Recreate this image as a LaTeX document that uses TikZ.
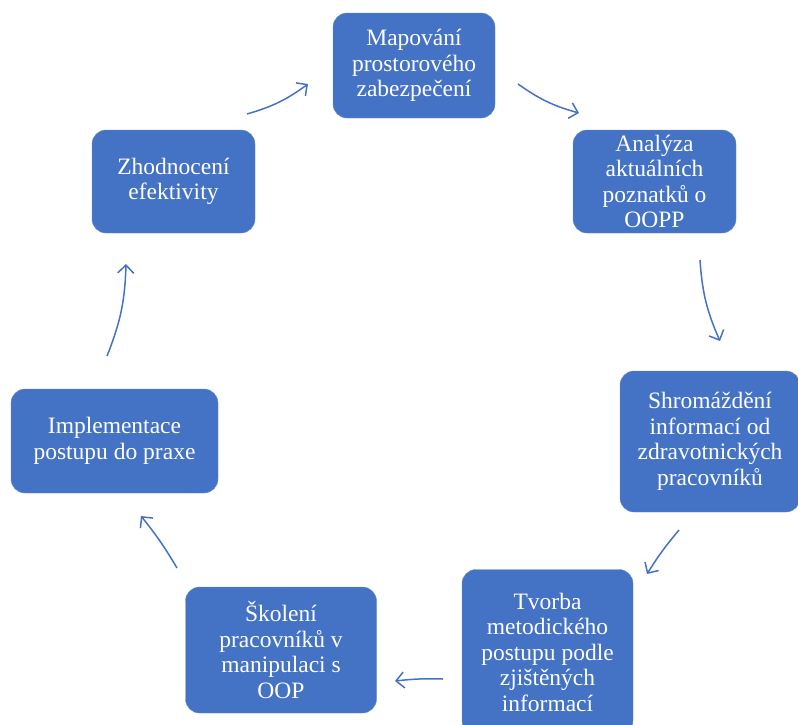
\documentclass[tikz,border=0pt]{standalone}
\usepackage{fontspec}
\setmainfont{Liberation Serif}
\usetikzlibrary{arrows.meta}
\definecolor{boxblue}{HTML}{4472C4}

\begin{document}
\begin{tikzpicture}[x=1pt,y=-1pt,
  box/.style={fill=boxblue,draw=boxblue!80!white,rounded corners=14pt,text=white,align=center,
    inner sep=0pt,font=\fontsize{23.5}{25.5}\selectfont},
  arr/.style={draw=boxblue,line width=1.5pt,-{Straight Barb[length=8pt,width=16pt]}}]

\useasboundingbox (0,0) rectangle (798,724);

\foreach \name/\x/\y/\w/\h/\txt in {
  map/414/65.5/162/105/{Mapování\\prostorového\\zabezpečení},
  ana/654.5/181.5/163/103/{Analýza\\aktuálních\\poznatků o\\OOPP},
  shr/710/441.5/180/141/{Shromáždění\\informací od\\zdravotnických\\pracovníků},
  tvo/547.5/652/171/165/{Tvorba\\metodického\\postupu podle\\zjištěných\\informací},
  sko/281/650/191/126/{Školení\\pracovníků v\\manipulaci s\\OOP},
  imp/114.5/441/207/104/{Implementace\\postupu do praxe},
  zho/173.5/181.5/163/103/{Zhodnocení\\efektivity}}
  \node[box,minimum width=\w pt,minimum height=\h pt] (\name) at (\x,\y) {\txt};

% arrow ends
\foreach \name/\x/\y in {a1s/247/114,a1e/308/84,a2s/518/84,a2e/579/113,
  a3s/700/260,a3e/720/341,a4s/679/530,a4e/647/574,a5s/443/679,a5e/395/681,
  a6s/177/568,a6e/141/516,a7s/107/356,a7e/126/264}
  \coordinate (\name) at (\x,\y);

\foreach \i/\b in {1/10,2/10,3/10,4/4,5/4,6/4,7/10}
  \draw[arr] (a\i s) to[bend right=\b] (a\i e);

\end{tikzpicture}
\end{document}
